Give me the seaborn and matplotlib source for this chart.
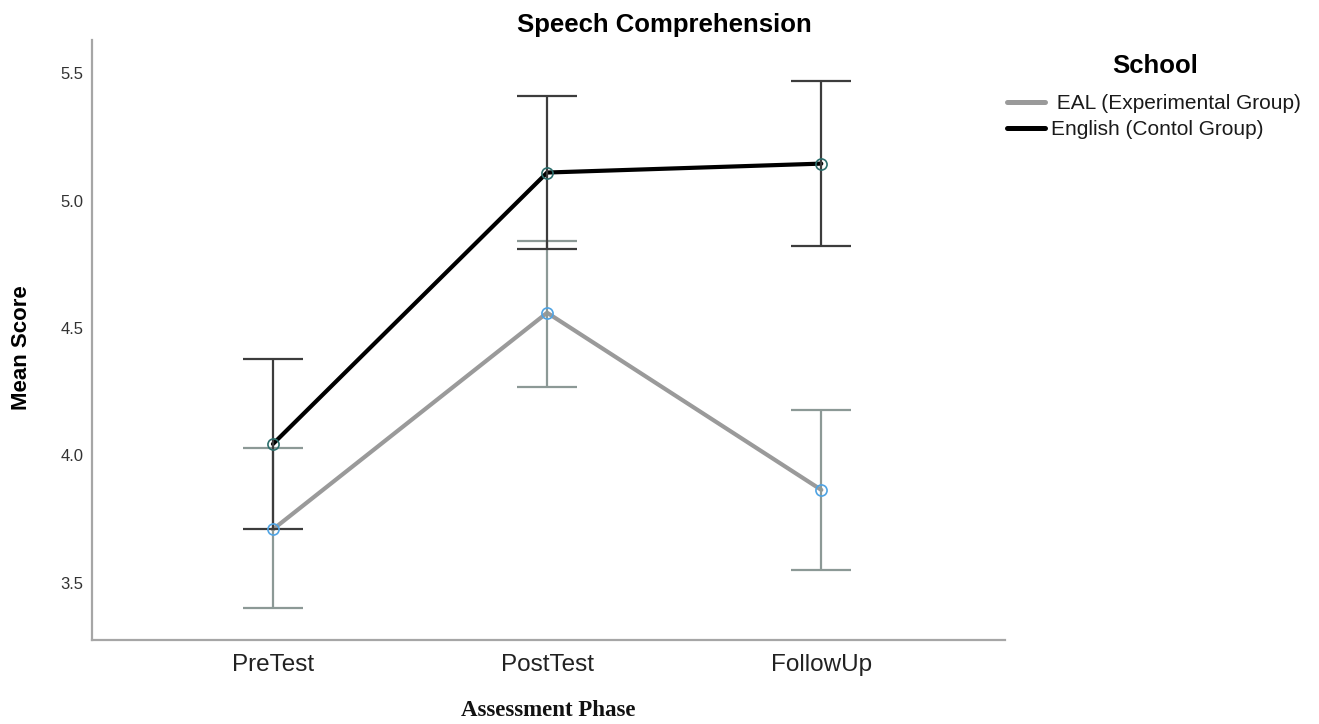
import numpy as np
import pandas as pd
import matplotlib
matplotlib.use("Agg")
import matplotlib.pyplot as plt
from matplotlib.lines import Line2D
import seaborn as sns

# Assessment phases and group summaries (mean with 95% CI bounds)
phases = ["PreTest", "PostTest", "FollowUp"]
groups = [" EAL (Experimental Group)", "English (Contol Group)"]

eal_mean = [3.71, 4.56, 3.865]
eal_lo = [3.40, 4.27, 3.55]
eal_hi = [4.03, 4.84, 4.18]

eng_mean = [4.045, 5.11, 5.145]
eng_lo = [3.71, 4.81, 4.82]
eng_hi = [4.38, 5.41, 5.47]

y_ticks = [3.5, 4.0, 4.5, 5.0, 5.5]

sns.set_theme(style="white")
plt.rcParams["font.family"] = ["Liberation Sans", "DejaVu Sans"]

line_colors = {groups[0]: "#9a9a9a", groups[1]: "#000000"}
err_colors = {groups[0]: "#8c9996", groups[1]: "#3c3c3c"}
marker_colors = {groups[0]: "#4fa3e3", groups[1]: "#2c6e6c"}

pos = np.arange(len(phases))
df = pd.DataFrame({
    "pos": np.concatenate([pos, pos]),
    "Phase": phases * 2,
    "School": [groups[0]] * 3 + [groups[1]] * 3,
    "mean": eal_mean + eng_mean,
    "lo": eal_lo + eng_lo,
    "hi": eal_hi + eng_hi,
})

fig = plt.figure(figsize=(13.19, 7.24), dpi=100)
ax = fig.add_axes([92 / 1319, 84 / 724, 913 / 1319, 600 / 724])

sns.lineplot(data=df, x="pos", y="mean", hue="School", palette=line_colors,
             linewidth=3.0, legend=False, ax=ax, zorder=2)

for g in groups:
    sub = df[df["School"] == g]
    ax.errorbar(sub["pos"], sub["mean"],
                yerr=[sub["mean"] - sub["lo"], sub["hi"] - sub["mean"]],
                fmt="none", ecolor=err_colors[g], elinewidth=1.6,
                capsize=21.5, capthick=1.6, zorder=3)
for g in groups:
    sub = df[df["School"] == g]
    ax.plot(sub["pos"], sub["mean"], ls="none", marker="o", markersize=8,
            markerfacecolor="none", markeredgecolor=marker_colors[g],
            markeredgewidth=1.2, zorder=4)

ax.set_xlim(-0.66, 2.67)
ax.set_ylim(3.276, 5.63)
ax.set_xticks(pos)
ax.set_xticklabels(phases, fontsize=17.5, color="#222222")
ax.set_yticks(y_ticks)
ax.set_yticklabels([f"{v:.1f}" for v in y_ticks], fontsize=12, color="#333333")
ax.tick_params(axis="x", length=0, pad=10)
ax.tick_params(axis="y", length=0, pad=6)
ax.set_xlabel("")
ax.set_ylabel("")

for side in ["top", "right"]:
    ax.spines[side].set_visible(False)
for side in ["left", "bottom"]:
    ax.spines[side].set_color("#a6a6a6")
    ax.spines[side].set_linewidth(1.6)

fig.text(664 / 1319, 1 - 25 / 724, "Speech Comprehension", ha="center", va="center",
         fontsize=18.5, fontweight="bold", color="black")
fig.text(22 / 1319, 1 - 348 / 724, "Mean Score", ha="center", va="center",
         rotation=90, fontsize=16, fontweight="bold", color="black")
fig.text(548 / 1319, 1 - 710 / 724, "Assessment Phase", ha="center", va="center",
         fontsize=16.5, fontweight="bold", color="#111111",
         family=["Liberation Serif", "DejaVu Serif"])

# Legend title placed on its own, entries below it
fig.text(1155 / 1319, 1 - 66 / 724, "School", ha="center", va="center",
         fontsize=18.5, fontweight="bold", color="black")
handles = [Line2D([0], [0], color=line_colors[g], lw=3.6) for g in groups]
leg = fig.legend(handles, groups, loc="upper left",
                 bbox_to_anchor=(1007 / 1319, 1 - 94 / 724),
                 frameon=False, fontsize=15,
                 handlelength=1.8, handletextpad=0.33, labelspacing=0.35,
                 borderpad=0, borderaxespad=0)
for t in leg.get_texts():
    t.set_color("#1a1a1a")

fig.savefig("out.png", dpi=100)
